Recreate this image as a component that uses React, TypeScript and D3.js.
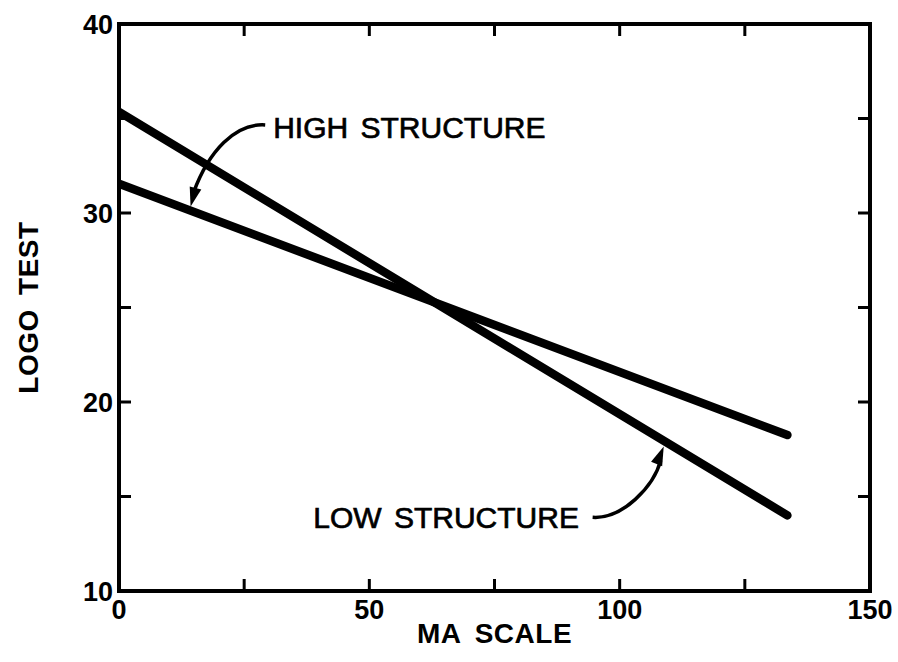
import React from "react";
import * as d3 from "d3";

const W = 898;
const H = 662;

// Data (regression lines)
const seriesNames = ["steep", "flat"];
const steepLine = [
  { x: 0, y: 35.35 },
  { x: 133.5, y: 14.0 },
];
const flatLine = [
  { x: 0, y: 31.55 },
  { x: 133.5, y: 18.25 },
];
const xTicks = [0, 25, 50, 75, 100, 125, 150];
const xTickLabels = [0, 50, 100, 150];
const yTicks = [10, 15, 20, 25, 30, 35, 40];
const yTickLabels = [10, 20, 30, 40];
const xTitle = "MA SCALE";
const yTitle = "LOGO TEST";
const highLabel = { text: "HIGH STRUCTURE", x: 30.8, y: 33.97 };
const highArrow = { fromX: 29.2, fromY: 34.66, toX: 14.3, toY: 30.35 };
const lowLabel = { text: "LOW STRUCTURE", x: 38.8, y: 13.33 };
const lowArrow = { fromX: 94.6, fromY: 13.9, toX: 108.8, toY: 17.65 };

export default function App() {
  const left = 119;
  const right = 870;
  const top = 24;
  const bottom = 591;

  const x = d3.scaleLinear().domain([0, 150]).range([left, right]);
  const y = d3.scaleLinear().domain([10, 40]).range([bottom, top]);

  const line = d3
    .line<{ x: number; y: number }>()
    .x((d) => x(d.x))
    .y((d) => y(d.y));

  const tickLen = 12;
  const font = "'Liberation Sans', Arial, Helvetica, sans-serif";

  // curved arrows
  const hp = d3.path();
  {
    const x0 = x(highArrow.fromX), y0 = y(highArrow.fromY);
    const x1 = x(highArrow.toX), y1 = y(highArrow.toY);
    hp.moveTo(x0, y0);
    hp.bezierCurveTo(x0 - 30, y0 - 2, x1 + 18, y1 - 55, x1 + 3, y1 - 14);
  }
  const lp = d3.path();
  {
    const x0 = x(lowArrow.fromX), y0 = y(lowArrow.fromY);
    const x1 = x(lowArrow.toX), y1 = y(lowArrow.toY);
    lp.moveTo(x0, y0);
    lp.bezierCurveTo(x0 + 30, y0 + 2, x1 - 10, y1 + 40, x1 - 3, y1 + 14);
  }

  const arrowHead = (tx: number, ty: number, angleDeg: number) => {
    const a = (angleDeg * Math.PI) / 180;
    const len = 19;
    const half = 6;
    const bx = tx - len * Math.cos(a);
    const by = ty - len * Math.sin(a);
    const px = -Math.sin(a) * half;
    const py = Math.cos(a) * half;
    return `M${tx},${ty}L${bx + px},${by + py}L${bx - px},${by - py}Z`;
  };

  return (
    <svg
      width={W}
      height={H}
      style={{ position: "absolute", left: 0, top: 0, background: "#fff" }}
    >
      <defs>
        <clipPath id="plotclip">
          <rect x={left} y={top} width={right - left} height={bottom - top} />
        </clipPath>
      </defs>

      {/* data lines */}
      <g clipPath="url(#plotclip)">
        {[steepLine, flatLine].map((s, i) => (
          <path
            key={seriesNames[i]}
            d={line(s) || ""}
            fill="none"
            stroke="#000"
            strokeWidth={8.5}
            strokeLinecap="round"
          />
        ))}
      </g>

      {/* frame */}
      <rect
        x={left}
        y={top}
        width={right - left}
        height={bottom - top}
        fill="none"
        stroke="#000"
        strokeWidth={4}
      />

      {/* x ticks top & bottom */}
      {xTicks.slice(1, -1).map((t) => (
        <g key={"xt" + t}>
          <line x1={x(t)} x2={x(t)} y1={bottom} y2={bottom - tickLen} stroke="#000" strokeWidth={3} />
          <line x1={x(t)} x2={x(t)} y1={top} y2={top + tickLen} stroke="#000" strokeWidth={3} />
        </g>
      ))}
      {/* y ticks left & right */}
      {yTicks.slice(1, -1).map((t) => (
        <g key={"yt" + t}>
          <line x1={left} x2={left + tickLen} y1={y(t)} y2={y(t)} stroke="#000" strokeWidth={3} />
          <line x1={right} x2={right - tickLen} y1={y(t)} y2={y(t)} stroke="#000" strokeWidth={3} />
        </g>
      ))}

      {/* tick labels */}
      {xTickLabels.map((t) => (
        <text
          key={"xl" + t}
          x={x(t)}
          y={619}
          textAnchor="middle"
          fontFamily={font}
          fontWeight="bold"
          fontSize={27}
        >
          {t}
        </text>
      ))}
      {yTickLabels.map((t) => (
        <text
          key={"yl" + t}
          x={left - 6}
          y={y(t)}
          dy="0.36em"
          textAnchor="end"
          fontFamily={font}
          fontWeight="bold"
          fontSize={27}
        >
          {t}
        </text>
      ))}

      {/* axis titles */}
      <text
        x={(left + right) / 2}
        y={643}
        textAnchor="middle"
        fontFamily={font}
        fontWeight="bold"
        fontSize={28}
        letterSpacing={0.5}
        wordSpacing={6}
      >
        {xTitle}
      </text>
      <text
        transform={`translate(38,${(top + bottom) / 2}) rotate(-90)`}
        textAnchor="middle"
        fontFamily={font}
        fontWeight="bold"
        fontSize={28}
        letterSpacing={0.5}
        wordSpacing={6}
      >
        {yTitle}
      </text>

      {/* annotations */}
      <text
        x={x(highLabel.x)}
        y={y(highLabel.y)}
        fontFamily={font}
        fontSize={30}
        stroke="#000"
        strokeWidth={0.7}
        wordSpacing={4}
      >
        {highLabel.text}
      </text>
      <text
        x={x(lowLabel.x)}
        y={y(lowLabel.y)}
        fontFamily={font}
        fontSize={30}
        stroke="#000"
        strokeWidth={0.7}
        wordSpacing={4}
      >
        {lowLabel.text}
      </text>
      <path d={hp.toString()} fill="none" stroke="#000" strokeWidth={3.5} />
      <path d={arrowHead(x(highArrow.toX), y(highArrow.toY), 105)} fill="#000" />
      <path d={lp.toString()} fill="none" stroke="#000" strokeWidth={3.5} />
      <path d={arrowHead(x(lowArrow.toX), y(lowArrow.toY), -68)} fill="#000" />
    </svg>
  );
}
